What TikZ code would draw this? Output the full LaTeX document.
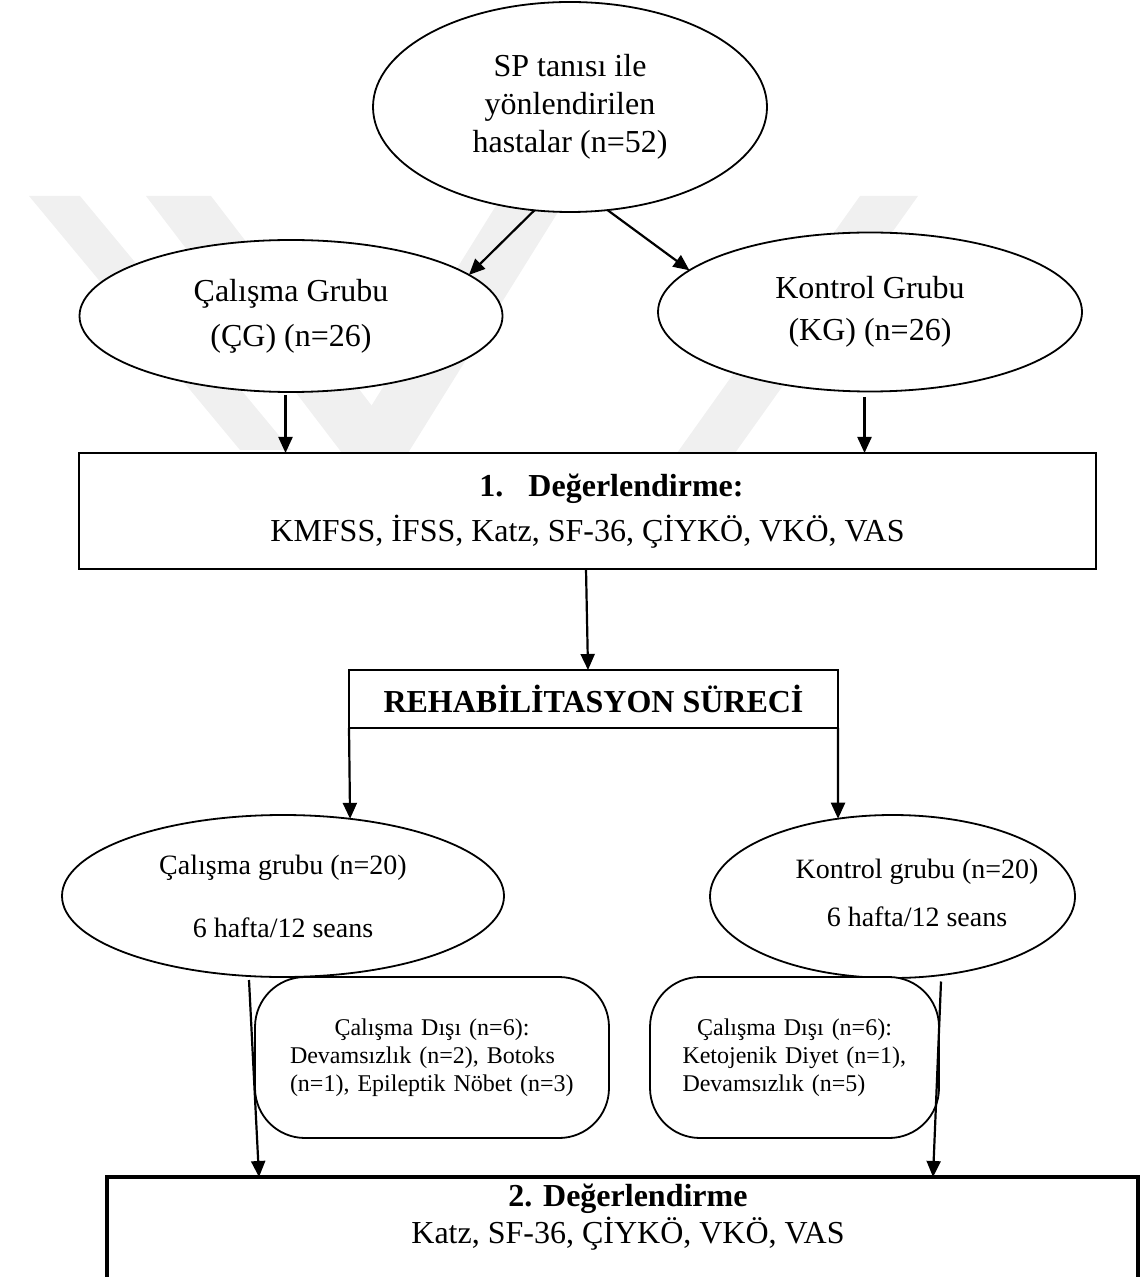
\documentclass[tikz,border=0pt]{standalone}
\usepackage{fontspec}
\setmainfont{Liberation Serif}
\usetikzlibrary{shapes.geometric,arrows.meta,calc}

\begin{document}
\begin{tikzpicture}[
    x=0.5pt, y=-0.5pt,
    oval/.style={ellipse, draw, fill=white, line width=0.9pt, inner sep=0pt, outer sep=0pt, align=center},
    box/.style={rectangle, draw, fill=white, line width=1pt, inner sep=0pt, outer sep=0pt, align=center},
    dropbox/.style={rectangle, rounded corners=25pt, draw, fill=white, line width=0.9pt, inner sep=0pt, outer sep=0pt,
        text width=#1, align=left, font=\fontsize{12}{14}\selectfont},
    wmark/.style={fill=black!6},
    arrow/.style={-{Triangle[length=8pt,width=7pt]}, line width=1.1pt}
]
\useasboundingbox (0,0) rectangle (1142,1277);
\clip (0,0) rectangle (1142,1277);

% faint watermark
\fill[wmark] (29,196) -- (80,196) -- (291,450) -- (240,450) -- cycle;
\fill[wmark] (146,196) -- (211,196) -- (408,453) -- (342,453) -- cycle;
\fill[wmark] (502,196) -- (568,196) -- (408,453) -- (342,453) -- cycle;
\fill[wmark] (860,196) -- (918,196) -- (735,453) -- (677,453) -- cycle;

% groups
\node[oval, minimum width=197pt, minimum height=105pt, font=\fontsize{16}{19}\selectfont] (sp) at (570,107)
    {SP tanısı ile\\yönlendirilen\\hastalar (n=52)};
\node[oval, minimum width=211.5pt, minimum height=76pt, font=\fontsize{16}{22.5}\selectfont] (cg) at (291,316)
    {Çalışma Grubu\\(ÇG) (n=26)};
\node[oval, minimum width=212pt, minimum height=79.5pt, font=\fontsize{16}{21}\selectfont] (kg) at (870,312)
    {Kontrol Grubu\\(KG) (n=26)};

% first assessment
\node[box, minimum width=508.5pt, minimum height=58pt, font=\fontsize{16}{22.5}\selectfont] (eval1) at (587.5,511)
    {\hspace*{24pt}\textbf{1.\hspace{12.5pt}Değerlendirme:}\\KMFSS, İFSS, Katz, SF-36, ÇİYKÖ, VKÖ, VAS};
\node[box, minimum width=244.5pt, minimum height=29pt, font=\fontsize{16}{19}\selectfont\bfseries] (rehab) at (593.5,699)
    {REHABİLİTASYON SÜRECİ};

% after rehabilitation
\node[oval, minimum width=221pt, minimum height=81pt, font=\fontsize{14}{31.5}\selectfont] (ct2) at (283,896)
    {Çalışma grubu (n=20)\\6 hafta/12 seans};
\node[oval, minimum width=182.5pt, minimum height=81.5pt] (kg2) at (892.5,896.5) {};
\node[align=center, inner sep=0pt, font=\fontsize{14}{24}\selectfont] (kg2txt) at (917,893)
    {Kontrol grubu (n=20)\\6 hafta/12 seans};

\node[dropbox=142pt, minimum width=177pt, minimum height=80.5pt] (out1) at (432,1057.5)
    {\makebox[\linewidth]{Çalışma Dışı (n=6):}\\Devamsızlık (n=2), Botoks\\(n=1), Epileptik Nöbet (n=3)};
\node[dropbox=112pt, minimum width=144.5pt, minimum height=80.5pt] (out2) at (794.5,1057.5)
    {\makebox[\linewidth]{Çalışma Dışı (n=6):}\\Ketojenik Diyet (n=1),\\Devamsızlık (n=5)};

% second assessment
\node[box, line width=1.6pt, minimum width=515.5pt, anchor=north, inner ysep=3.5pt, text depth=60pt,
    font=\fontsize{16}{18.5}\selectfont] (eval2) at (622.5,1177)
    {\hspace*{5.5pt}\textbf{2. Değerlendirme}\\\hspace*{5.5pt}Katz, SF-36, ÇİYKÖ, VKÖ, VAS};

\draw[arrow] (sp.251.7) -- (cg.13.8);
\draw[arrow] (sp.290.7) -- (kg.167.9);
\draw[arrow] ($(cg.south)+(-5.5,3)$) -- ($(cg.south |- eval1.north)+(-5.5,0)$);
\draw[arrow] ($(kg.south)+(-5.5,5.5)$) -- ($(kg.south |- eval1.north)+(-5.5,0)$);
\draw[arrow] ($(eval1.south)+(-1.5,0)$) -- ($(rehab.north)+(-5.5,0)$);
\draw[arrow] (rehab.south west) -- (ct2.49.4);
\draw[arrow] (rehab.south east) -- (kg2.125);
\draw[arrow] ($(ct2.south)+(-34,3)$) -- ($(eval2.north west)+(152,0)$);
\draw[arrow] ($(kg2.south)+(48.5,3.5)$) -- ($(eval2.north east)+(-205,0)$);

\end{tikzpicture}
\end{document}
